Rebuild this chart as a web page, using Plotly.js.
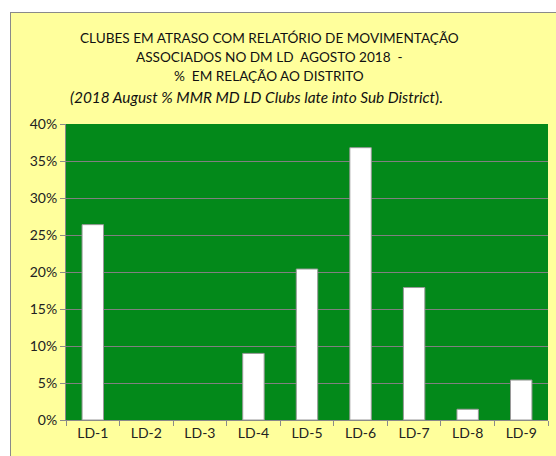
<!DOCTYPE html>
<html><head><meta charset="utf-8">
<script src="https://cdn.plot.ly/plotly-3.0.1.min.js"></script>
<style>
html,body{margin:0;padding:0;background:#fff;width:556px;height:456px;overflow:hidden;}
#wrap{position:absolute;left:10px;top:12px;width:560px;height:460px;border:1px solid #8a8a8a;background:#FFFF9C;}
#chart{position:absolute;left:0;top:0;}
</style></head>
<body>
<div id="wrap"><div id="chart"></div></div>
<script>
const categories = ["LD-1","LD-2","LD-3","LD-4","LD-5","LD-6","LD-7","LD-8","LD-9"];
const values = [0.264, 0, 0, 0.090, 0.204, 0.368, 0.179, 0.0145, 0.054];
const yTicks = [0,0.05,0.10,0.15,0.20,0.25,0.30,0.35,0.40];
const yTickLabels = ["0%","5%","10%","15%","20%","25%","30%","35%","40%"];
const titleLines = [
  "CLUBES EM ATRASO COM RELATÓRIO DE MOVIMENTAÇÃO",
  "ASSOCIADOS NO DM LD  AGOSTO 2018  -",
  "%  EM RELAÇÃO AO DISTRITO",
  "<i>(2018 August % MMR MD LD Clubs late into Sub District</i>)."
];

const W = 546, H = 444, M = {l: 55, r: 9, t: 111, b: 37};
const pw = W - M.l - M.r, ph = H - M.t - M.b;
const px2x = p => (p - M.l) / pw;
const py2y = p => (H - M.b - p) / ph;
const lineY = [25, 44, 63, 84];
const lineSize = [13.6, 13.6, 13.6, 15.4];

const tfont = "Lato, 'Open Sans', sans-serif";

const annotations = titleLines.map((t, i) => ({
  text: t, xref: "paper", yref: "paper",
  x: px2x(i === 3 ? 245 : 258), y: py2y(lineY[i]),
  xanchor: "center", yanchor: "middle", showarrow: false,
  font: {family: tfont, size: lineSize[i], color: "#111"}
}));

const trace = {
  type: "bar",
  x: categories,
  y: values,
  marker: {color: "#ffffff", line: {color: "#9a9a9a", width: values.map(v => v > 0 ? 1 : 0)}},
  hoverinfo: "skip"
};

const layout = {
  width: W, height: H,
  margin: M,
  paper_bgcolor: "#FFFF9C",
  plot_bgcolor: "#03891A",
  showlegend: false,
  bargap: 0.6,
  font: {family: tfont, color: "#222", size: 14},
  annotations: annotations,
  xaxis: {
    type: "category",
    showgrid: false,
    showline: true, linecolor: "#8a8a8a", linewidth: 1,
    ticks: "outside", tickson: "boundaries", ticklen: 5, tickcolor: "#8a8a8a",
    tickfont: {family: tfont, size: 14, color: "#222"},
    fixedrange: true
  },
  yaxis: {
    range: [0, 0.40],
    tickvals: yTicks, ticktext: yTickLabels,
    showgrid: true, gridcolor: "#808080", gridwidth: 1,
    zeroline: false,
    showline: true, linecolor: "#8a8a8a", linewidth: 1,
    ticks: "outside", ticklen: 5, tickcolor: "#8a8a8a",
    tickfont: {family: tfont, size: 14, color: "#222"},
    fixedrange: true
  }
};
Plotly.newPlot("chart", [trace], layout, {staticPlot: true, displayModeBar: false});
</script>
</body></html>
